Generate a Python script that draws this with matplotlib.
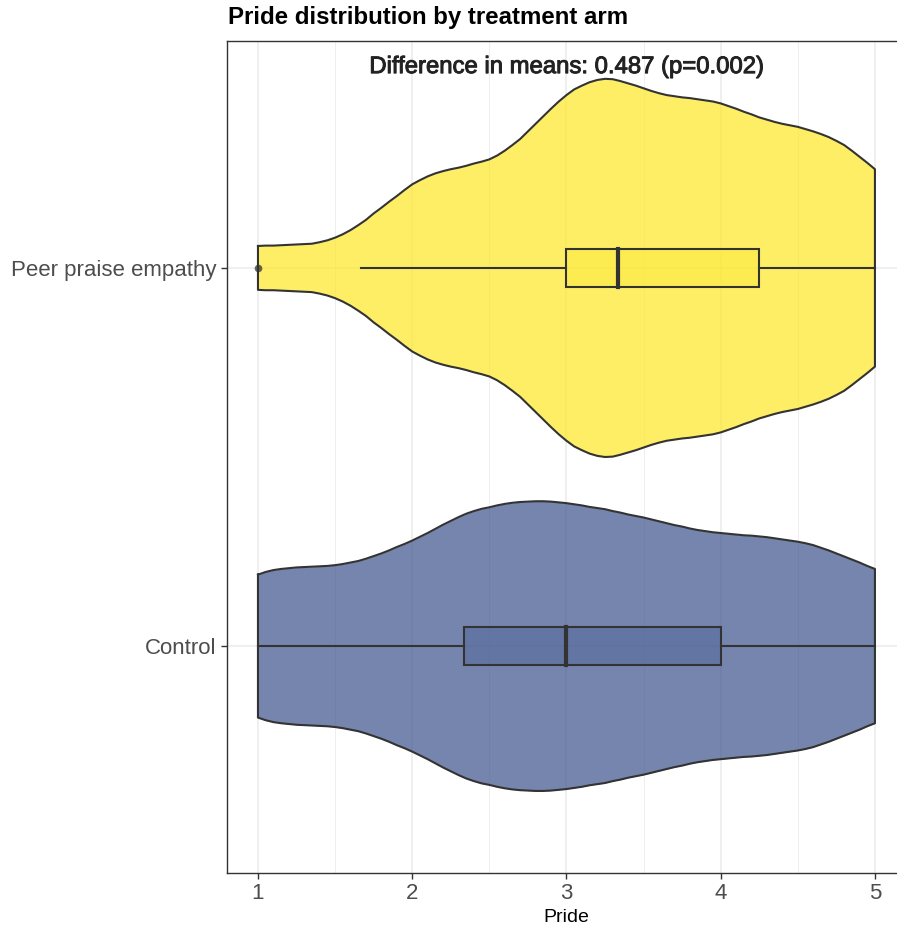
import matplotlib
matplotlib.use("Agg")
import matplotlib.pyplot as plt
import matplotlib.patheffects as pe
import numpy as np

plt.rcParams["font.family"] = ["Liberation Sans", "DejaVu Sans"]

# groups, bottom to top
ARMS = ["Control", "Peer praise empathy"]
FILLS = ["#3B528B", "#FDE725"]

# density profile (half-width in category units) along the Pride scale
PRIDE_GRID = [1.00, 1.05, 1.10, 1.15, 1.20, 1.25, 1.30, 1.35, 1.40, 1.45,
              1.50, 1.55, 1.60, 1.65, 1.70, 1.75, 1.80, 1.85, 1.90, 1.95,
              2.00, 2.05, 2.10, 2.15, 2.20, 2.25, 2.30, 2.35, 2.40, 2.45,
              2.50, 2.55, 2.60, 2.65, 2.70, 2.75, 2.80, 2.85, 2.90, 2.95,
              3.00, 3.05, 3.10, 3.15, 3.20, 3.25, 3.30, 3.35, 3.40, 3.45,
              3.50, 3.55, 3.60, 3.65, 3.70, 3.75, 3.80, 3.85, 3.90, 3.95,
              4.00, 4.05, 4.10, 4.15, 4.20, 4.25, 4.30, 4.35, 4.40, 4.45,
              4.50, 4.55, 4.60, 4.65, 4.70, 4.75, 4.80, 4.85, 4.90, 4.95,
              5.00]
CONTROL_DENS = [0.189, 0.196, 0.201, 0.204, 0.206, 0.208, 0.209, 0.210, 0.211, 0.212,
                0.214, 0.217, 0.221, 0.225, 0.231, 0.238, 0.245, 0.253, 0.262, 0.270,
                0.279, 0.289, 0.299, 0.310, 0.321, 0.331, 0.341, 0.350, 0.357, 0.363,
                0.367, 0.372, 0.376, 0.379, 0.381, 0.382, 0.383, 0.383, 0.382, 0.380,
                0.378, 0.375, 0.372, 0.368, 0.365, 0.362, 0.357, 0.353, 0.348, 0.344,
                0.340, 0.335, 0.330, 0.325, 0.320, 0.316, 0.311, 0.307, 0.304, 0.301,
                0.299, 0.297, 0.295, 0.293, 0.292, 0.290, 0.288, 0.285, 0.282, 0.279,
                0.276, 0.272, 0.267, 0.260, 0.253, 0.245, 0.237, 0.229, 0.221, 0.212,
                0.204]
PEER_DENS = [0.058, 0.059, 0.059, 0.060, 0.061, 0.062, 0.063, 0.064, 0.068, 0.073,
             0.080, 0.089, 0.100, 0.113, 0.127, 0.144, 0.159, 0.175, 0.190, 0.206,
             0.221, 0.232, 0.242, 0.250, 0.256, 0.261, 0.265, 0.270, 0.276, 0.281,
             0.287, 0.297, 0.310, 0.325, 0.341, 0.361, 0.381, 0.401, 0.421, 0.440,
             0.457, 0.472, 0.482, 0.491, 0.497, 0.500, 0.499, 0.494, 0.488, 0.482,
             0.475, 0.468, 0.462, 0.457, 0.454, 0.451, 0.449, 0.446, 0.443, 0.440,
             0.435, 0.428, 0.421, 0.413, 0.406, 0.398, 0.392, 0.386, 0.381, 0.377,
             0.373, 0.367, 0.361, 0.354, 0.346, 0.336, 0.325, 0.310, 0.294, 0.278,
             0.261]

# boxplot summaries: whisker low, Q1, median, Q3, whisker high
WHISK_LO = [1.0, 1.667]
Q1 = [2.333, 3.0]
MEDIAN = [3.0, 3.333]
Q3 = [4.0, 4.25]
WHISK_HI = [5.0, 5.0]
OUTLIERS = [[], [1.0]]

ANNOT = "Difference in means: 0.487 (p=0.002)"

EDGE = "#333333"
GRID = "#EBEBEB"

fig = plt.figure(figsize=(8.97, 9.32), dpi=100)
ax = fig.add_axes([0.2532, 0.0633, 0.7566, 0.8927])

ax.set_xlim(0.8, 5.2)
ax.set_ylim(0.4, 2.6)

# grid (theme_bw style)
for v in [1.5, 2.5, 3.5, 4.5]:
    ax.axvline(v, color=GRID, lw=0.6, zorder=0)
for v in [1, 2, 3, 4, 5]:
    ax.axvline(v, color=GRID, lw=1.1, zorder=0)
for v in [1, 2]:
    ax.axhline(v, color=GRID, lw=1.1, zorder=0)

dens = [CONTROL_DENS, PEER_DENS]
xs = np.array(PRIDE_GRID)
for i, arm in enumerate(ARMS):
    yc = i + 1
    d = np.array(dens[i])
    ax.fill_between(xs, yc - d, yc + d, color=FILLS[i], alpha=0.7, lw=0, zorder=2)
    outline_x = np.concatenate([xs, xs[::-1], xs[:1]])
    outline_y = np.concatenate([yc + d, (yc - d)[::-1], [yc + d[0]]])
    ax.plot(outline_x, outline_y, color=EDGE, lw=1.5, zorder=3, solid_joinstyle="round")

    # boxplot
    hw = 0.05
    ax.plot([WHISK_LO[i], Q1[i]], [yc, yc], color=EDGE, lw=1.5, zorder=4)
    ax.plot([Q3[i], WHISK_HI[i]], [yc, yc], color=EDGE, lw=1.5, zorder=4)
    ax.add_patch(plt.Rectangle((Q1[i], yc - hw), Q3[i] - Q1[i], 2 * hw,
                               facecolor=FILLS[i], alpha=0.3, edgecolor="none", zorder=4))
    ax.add_patch(plt.Rectangle((Q1[i], yc - hw), Q3[i] - Q1[i], 2 * hw,
                               facecolor="none", edgecolor=EDGE, lw=1.5, zorder=5))
    ax.plot([MEDIAN[i], MEDIAN[i]], [yc - hw, yc + hw], color=EDGE, lw=3.0, zorder=6)
    for o in OUTLIERS[i]:
        ax.plot(o, yc, "o", ms=5.5, color=EDGE, alpha=0.75, mec="none", zorder=6)

ax.text(3.0, 2.531, ANNOT, ha="center", va="center", fontsize=17.2, color="#222222",
        zorder=7, path_effects=[pe.withStroke(linewidth=0.7, foreground="#222222")])

ax.set_yticks([1, 2])
ax.set_yticklabels(ARMS)
ax.set_xticks([1, 2, 3, 4, 5])
ax.set_xticklabels(["1", "2", "3", "4", "5"])
ax.tick_params(axis="both", labelsize=16, labelcolor="#4D4D4D", color="#333333",
               length=4.5, width=1.0, pad=3)
ax.set_xlabel("Pride", fontsize=14, color="black", labelpad=3)
for s in ax.spines.values():
    s.set_color("#333333")
    s.set_linewidth(1.0)

fig.text(0.2542, 0.981, "Pride distribution by treatment arm", ha="left", va="center",
         fontsize=17.3, fontweight="bold")

fig.savefig("out.png", dpi=100)
